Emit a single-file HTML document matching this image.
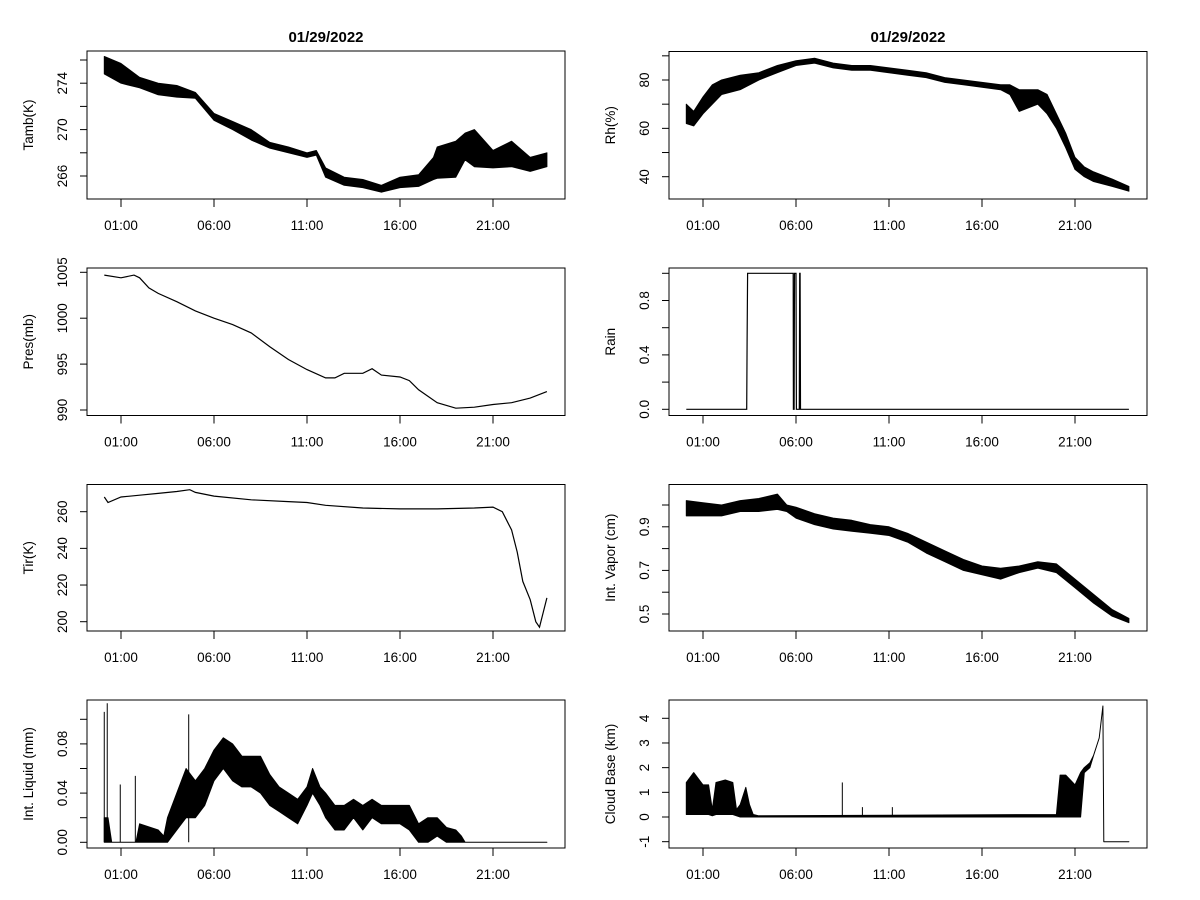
<!DOCTYPE html>
<html><head><meta charset="utf-8"><style>
html,body{margin:0;padding:0;background:#fff;}
svg{display:block;font-family:"Liberation Sans",Arial,sans-serif;}
</style></head><body>
<svg id="chart" width="1200" height="900" viewBox="0 0 1200 900"></svg>
<script>
// ---------- data (hours since 00:00, values) ----------
const hourTicks = [1, 6, 11, 16, 21];
const hourLabels = ["01:00", "06:00", "11:00", "16:00", "21:00"];
const titleText = "01/29/2022";

const tambT  = [0.1,1,2,3,4,5,6,7,8,9,10,11,11.5,12,13,14,15,16,17,17.8,18,19,19.5,20,21,22,23,23.9];
const tambLo = [274.8,274,273.6,273,272.8,272.7,270.8,270,269.1,268.4,268,267.6,267.8,265.9,265.2,265,264.6,265,265.1,265.7,265.8,265.9,267.4,266.8,266.7,266.8,266.4,266.8];
const tambHi = [276.3,275.7,274.5,274,273.8,273.2,271.4,270.7,270,268.9,268.5,268,268.2,266.7,265.9,265.7,265.2,265.9,266.1,267.6,268.5,269,269.7,270,268.2,269,267.6,268];

const presT = [0.1,1,1.7,2,2.5,3,4,5,6,7,8,9,10,11,12,12.5,13,14,14.5,15,16,16.5,17,18,19,20,21,22,23,23.9];
const presV = [1004.7,1004.4,1004.7,1004.4,1003.3,1002.7,1001.8,1000.8,1000,999.3,998.4,996.9,995.5,994.4,993.5,993.5,994,994,994.5,993.8,993.6,993.2,992.2,990.8,990.2,990.3,990.6,990.8,991.3,992];

const tirT = [0.1,0.3,1,2,3,4,4.7,5,6,8,10,11,12,14,16,18,20,21,21.5,22,22.3,22.6,23,23.3,23.5,23.7,23.9];
const tirV = [268,265,268,269,270,271,272,270.5,268.5,266.5,265.5,265,263.5,262,261.5,261.5,262,262.5,260,250,238,222,212,200,197,205,213];

const liqT  = [0.1,0.3,0.5,1.8,2,3,3.3,3.5,4,4.5,5,5.5,6,6.5,7,7.5,8,8.5,9,9.5,10,10.5,11,11.3,11.7,12,12.5,13,13.5,14,14.5,15,16,16.5,17,17.5,18,18.5,19,19.3,19.5,23.9];
const liqLo = [0,0,0,0,0,0,0,0,0.01,0.02,0.02,0.03,0.05,0.06,0.05,0.045,0.045,0.04,0.03,0.025,0.02,0.015,0.03,0.04,0.03,0.02,0.01,0.01,0.02,0.01,0.02,0.015,0.015,0.01,0,0,0.005,0,0,0,0,0];
const liqHi = [0.02,0.02,0,0,0.015,0.01,0.005,0.02,0.04,0.06,0.05,0.06,0.075,0.085,0.08,0.07,0.07,0.07,0.055,0.045,0.04,0.035,0.045,0.06,0.045,0.04,0.03,0.03,0.035,0.03,0.035,0.03,0.03,0.03,0.015,0.02,0.02,0.012,0.01,0.005,0,0];
const liqSpikeT = [0.1,0.26,0.96,1.77,4.64];
const liqSpikeV = [0.106,0.113,0.047,0.054,0.104];

const rhT  = [0.1,0.5,1,1.5,2,3,4,5,6,7,8,9,10,11,12,13,14,15,16,17,17.5,18,19,19.5,20,20.5,21,21.5,22,23,23.9];
const rhLo = [62,61,66,70,74,76,80,83,86,87,85,84,84,83,82,81,79,78,77,76,74,67,70,66,60,52,43,40,38,36,34];
const rhHi = [70,67,73,78,80,82,83,86,88,89,87,86,86,85,84,83,81,80,79,78,78,76,76,74,66,58,48,44,42,39,36];

const rainT = [0.1,3.35,3.37,3.4,5.85,5.86,5.9,5.92,6.0,6.02,6.18,6.2,6.22,6.24,23.9];
const rainV = [0,0,0.5,1,1,0,0,1,1,0,0,1,1,0,0];

const vapT  = [0.1,1,2,3,4,5,5.5,6,7,8,9,10,11,12,13,14,15,16,17,18,19,20,21,22,23,23.9];
const vapLo = [0.95,0.95,0.95,0.97,0.97,0.98,0.97,0.94,0.91,0.89,0.88,0.87,0.86,0.83,0.78,0.74,0.70,0.68,0.66,0.69,0.71,0.69,0.62,0.55,0.49,0.46];
const vapHi = [1.02,1.01,1.0,1.02,1.03,1.05,1.0,0.99,0.96,0.94,0.93,0.91,0.90,0.87,0.83,0.79,0.75,0.72,0.71,0.72,0.74,0.73,0.66,0.59,0.52,0.48];

const cbT  = [0.1,0.5,1,1.3,1.5,1.7,2.2,2.6,2.8,3,3.3,3.5,3.7,4,20,20.2,20.5,21,21.3,21.5,21.8,22,22.3,22.5,22.55,23.9];
const cbLo = [0.1,0.1,0.1,0.1,0.05,0.1,0.1,0.1,0.05,0,0,0,0,0,0,0,0,0,0,1.8,2.0,2.5,3.2,4.5,-1,-1];
const cbHi = [1.4,1.8,1.3,1.3,0.3,1.4,1.5,1.4,0.3,0.5,1.2,0.5,0.1,0.05,0.1,1.7,1.7,1.3,1.8,2.0,2.2,2.5,3.2,4.5,-1,-1];
const cbSpikeT = [8.49,9.57,11.18];
const cbSpikeV = [1.4,0.4,0.4];

// ---------- rendering ----------
const NS = "http://www.w3.org/2000/svg";
const svg = document.getElementById("chart");
function mk(tag, attrs, parent) {
  const e = document.createElementNS(NS, tag);
  for (const k in attrs) e.setAttribute(k, attrs[k]);
  (parent || svg).appendChild(e);
  return e;
}
function linY(v0, y0, v1, y1) { return v => y0 + (v - v0) * (y1 - y0) / (v1 - v0); }

const panels = [
  {name:"tamb", col:0, top:51, bot:199, ylab:"Tamb(K)", y:linY(266,176,276,60), ticks:[266,268,270,272,274,276], labs:{266:"266",270:"270",274:"274"}, title:true},
  {name:"pres", col:0, top:268, bot:415.5, ylab:"Pres(mb)", y:linY(990,410,1005,272.3), ticks:[990,995,1000,1005], labs:{990:"990",995:"995",1000:"1000",1005:"1005"}},
  {name:"tir", col:0, top:484.5, bot:631, ylab:"Tir(K)", y:linY(200,621.7,260,511.7), ticks:[200,220,240,260], labs:{200:"200",220:"220",240:"240",260:"260"}},
  {name:"liquid", col:0, top:700, bot:848, ylab:"Int. Liquid (mm)", y:linY(0,842.3,0.1,719.3), ticks:[0,0.02,0.04,0.06,0.08,0.1], labs:{0:"0.00",0.04:"0.04",0.08:"0.08"}},
  {name:"rh", col:1, top:51.5, bot:199, ylab:"Rh(%)", y:linY(40,176.7,80,80), ticks:[40,50,60,70,80,90], labs:{40:"40",60:"60",80:"80"}, title:true},
  {name:"rain", col:1, top:268, bot:415.5, ylab:"Rain", y:linY(0,409.3,1,273.3), ticks:[0,0.2,0.4,0.6,0.8,1], labs:{0:"0.0",0.4:"0.4",0.8:"0.8"}},
  {name:"vapor", col:1, top:484.5, bot:631, ylab:"Int. Vapor (cm)", y:linY(0.5,614,1.0,505), ticks:[0.5,0.6,0.7,0.8,0.9,1.0], labs:{0.5:"0.5",0.7:"0.7",0.9:"0.9"}},
  {name:"cloud-base", col:1, top:700, bot:848, ylab:"Cloud Base (km)", y:linY(0,817,4,718.3), ticks:[-1,0,1,2,3,4], labs:{"-1":"-1",0:"0",1:"1",2:"2",3:"3",4:"4"}}
];
const colLeft = [87, 669], colRight = [565, 1147], hour0 = [102.4, 684.4], pxPerHour = 18.6;

function band(g, p, xf, T, lo, hi) {
  let pts = [];
  for (let i = 0; i < T.length; i++) pts.push(xf(T[i]).toFixed(1) + "," + p.y(lo[i]).toFixed(1));
  for (let i = T.length - 1; i >= 0; i--) pts.push(xf(T[i]).toFixed(1) + "," + p.y(hi[i]).toFixed(1));
  const e = mk("polygon", {points: pts.join(" "), fill: "#000", stroke: "#000", "stroke-width": 1, "stroke-linejoin": "round"}, g);
  
  
}
function line(g, p, xf, T, V) {
  const pts = T.map((t, i) => xf(t).toFixed(1) + "," + p.y(V[i]).toFixed(1)).join(" ");
  const e = mk("polyline", {points: pts, fill: "none", stroke: "#000", "stroke-width": 1.2}, g);
  
  
}
function spikes(g, p, xf, T, V) {
  T.forEach((t, i) => {
    const e = mk("line", {x1: xf(t), x2: xf(t), y1: p.y(0), y2: p.y(V[i]), stroke: "#000", "stroke-width": 1}, g);
    
    
  });
}

panels.forEach(p => {
  const L = colLeft[p.col], R = colRight[p.col];
  const xf = h => hour0[p.col] + h * pxPerHour;
  const g = mk("g", {});
  
  
  const box = mk("rect", {x: L, y: p.top, width: R - L, height: p.bot - p.top, fill: "none", stroke: "#000", "stroke-width": 1}, g);
  
  
  hourTicks.forEach((h, i) => {
    const x = xf(h);
    mk("line", {x1: x, x2: x, y1: p.bot, y2: p.bot + 8, stroke: "#000"}, g);
    const t = mk("text", {x: x, y: p.bot + 31, "font-size": 13.5, "text-anchor": "middle", fill: "#000"}, g);
    t.textContent = hourLabels[i];
    
    
  });
  p.ticks.forEach(v => {
    const y = p.y(v);
    mk("line", {x1: L - 7, x2: L, y1: y, y2: y, stroke: "#000"}, g);
    const lab = p.labs[v];
    if (lab !== undefined) {
      const tx = L - 20;
      const t = mk("text", {x: tx, y: y, "font-size": 13.5, "text-anchor": "middle", transform: `rotate(-90 ${tx} ${y})`, fill: "#000"}, g);
      t.textContent = lab;
      
      
    }
  });
  const yc = (p.top + p.bot) / 2, yx = L - 54;
  const yl = mk("text", {x: yx, y: yc, "font-size": 13.5, "text-anchor": "middle", transform: `rotate(-90 ${yx} ${yc})`, fill: "#000"}, g);
  yl.textContent = p.ylab;
  
  
  if (p.title) {
    const tt = mk("text", {x: (L + R) / 2, y: 42, "font-size": 15, "font-weight": "bold", "text-anchor": "middle", fill: "#000"}, g);
    tt.textContent = titleText;
    
    
  }
  if (p.name === "tamb") band(g, p, xf, tambT, tambLo, tambHi);
  if (p.name === "pres") line(g, p, xf, presT, presV);
  if (p.name === "tir") line(g, p, xf, tirT, tirV);
  if (p.name === "liquid") { band(g, p, xf, liqT, liqLo, liqHi); spikes(g, p, xf, liqSpikeT, liqSpikeV); }
  if (p.name === "rh") band(g, p, xf, rhT, rhLo, rhHi);
  if (p.name === "rain") line(g, p, xf, rainT, rainV);
  if (p.name === "vapor") band(g, p, xf, vapT, vapLo, vapHi);
  if (p.name === "cloud-base") { band(g, p, xf, cbT, cbLo, cbHi); spikes(g, p, xf, cbSpikeT, cbSpikeV); }
});
</script>
</body></html>
